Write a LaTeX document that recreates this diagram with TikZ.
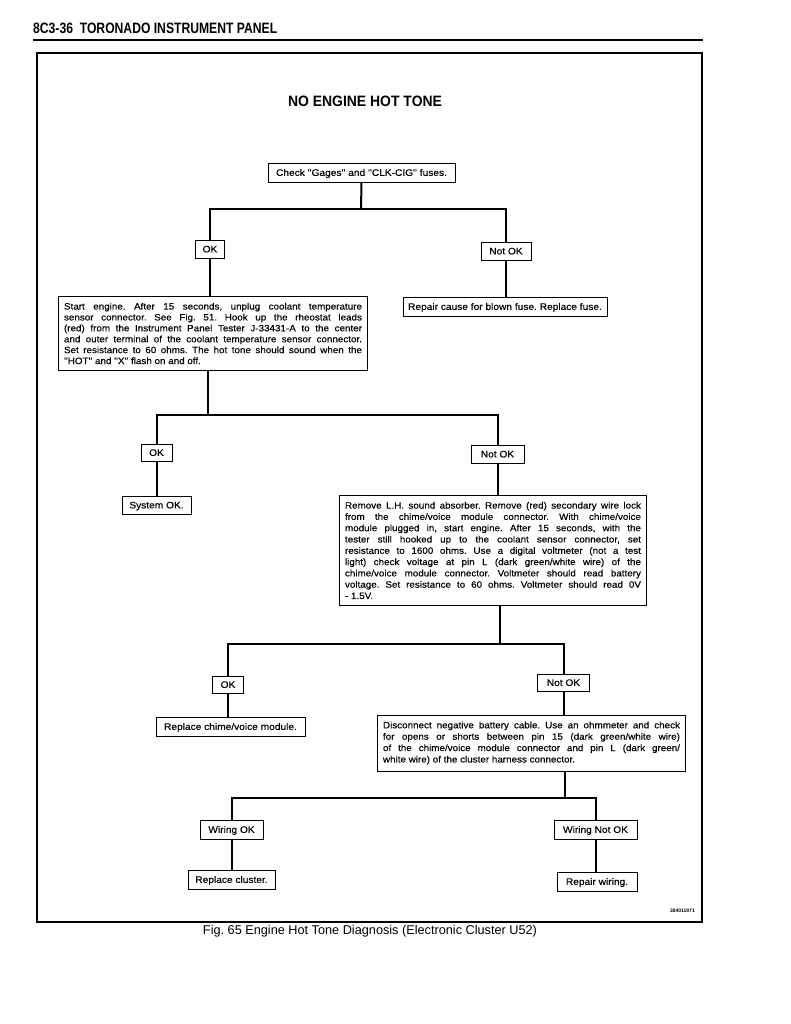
\documentclass[tikz,border=0pt]{standalone}
\usepackage{fontspec}
\setmainfont{Liberation Sans}
\newfontfamily\boxfont{Liberation Sans}[FakeStretch=1.07,FakeBold=0.3]
\frenchspacing
\begin{document}
\begin{tikzpicture}[x=1pt,y=-1pt,
  box/.style={draw, line width=0.8pt, inner sep=0pt, text height=6.8pt, text depth=0pt, font=\boxfont\fontsize{9.5}{12}\selectfont},
  tbox/.style={draw, line width=0.8pt, inner xsep=5.5pt, inner ysep=2pt, align=justify},
  conn/.style={line width=2pt},
  frame/.style={line width=1.4pt}]
\useasboundingbox (0,0) rectangle (791,1024);
\fill[white] (0,0) rectangle (791,1024);
% header
\node[anchor=south west, inner sep=0pt] (hdr) at (33,34) {\resizebox{244pt}{10.5pt}{\bfseries 8C3-36\ \ TORONADO INSTRUMENT PANEL}};
\draw[line width=1.2pt] (33,40) -- (703,40);
% frame
\draw[frame] (37,53) rectangle (702,922);
% title
\node[inner sep=0pt] (title) at (365,101) {\resizebox{154pt}{10.5pt}{\bfseries NO ENGINE HOT TONE}};
% level 1
\node[box, minimum width=187pt, minimum height=19pt] (b1) at (361.5,172.5) {Check ''Gages'' and ''CLK-CIG'' fuses.};
\coordinate (j1) at (361,209);
\node[box, minimum width=29pt, minimum height=18pt] (ok1) at (210,249) {OK};
\node[box, minimum width=50pt, minimum height=18pt] (nok1) at (506,251) {Not OK};
\node[tbox, text width=298pt, minimum height=74pt, font=\boxfont\fontsize{9.2}{10.9}\selectfont] (b2) at (213,333.5) {Start engine. After 15 seconds, unplug coolant temperature\linebreak sensor connector. See Fig. 51. Hook up the rheostat leads\linebreak (red) from the Instrument Panel Tester J-33431-A to the center\linebreak and outer terminal of the coolant temperature sensor connector.\linebreak Set resistance to 60 ohms. The hot tone should sound when the\linebreak ''HOT'' and ''X'' flash on and off.};
\node[box, minimum width=204pt, minimum height=19pt] (rep1) at (505,306.5) {Repair cause for blown fuse. Replace fuse.};
% level 2
\coordinate (j2) at (208,415);
\node[box, minimum width=31pt, minimum height=17pt] (ok2) at (156.5,452.5) {OK};
\node[box, minimum width=53pt, minimum height=18pt] (nok2) at (497.5,454) {Not OK};
\node[box, minimum width=69pt, minimum height=18pt] (sys) at (156.5,505) {System OK.};
\node[tbox, text width=296pt, minimum height=110pt, font=\boxfont\fontsize{9.2}{11.3}\selectfont] (b4) at (493,550.5) {Remove L.H. sound absorber. Remove (red) secondary wire lock\linebreak from the chime/voice module connector. With chime/voice\linebreak module plugged in, start engine. After 15 seconds, with the\linebreak tester still hooked up to the coolant sensor connector, set\linebreak resistance to 1600 ohms. Use a digital voltmeter (not a test\linebreak light) check voltage at pin L (dark green/white wire) of the\linebreak chime/voice module connector. Voltmeter should read battery\linebreak voltage. Set resistance to 60 ohms. Voltmeter should read 0V\linebreak - 1.5V.};
% level 3
\coordinate (j3) at (500,644);
\node[box, minimum width=31pt, minimum height=17pt] (ok3) at (228,684.5) {OK};
\node[box, minimum width=52pt, minimum height=17pt] (nok3) at (563.5,682.5) {Not OK};
\node[box, minimum width=149pt, minimum height=19pt] (repch) at (230.5,726.5) {Replace chime/voice module.};
\node[tbox, text width=297pt, minimum height=56pt, font=\boxfont\fontsize{9.2}{11.4}\selectfont] (b6) at (531.5,743) {Disconnect negative battery cable. Use an ohmmeter and check\linebreak for opens or shorts between pin 15 (dark green/white wire)\linebreak of the chime/voice module connector and pin L (dark green/\linebreak white wire) of the cluster harness connector.};
% level 4
\coordinate (j4) at (565,798);
\node[box, minimum width=63pt, minimum height=19pt] (wok) at (231.5,829.5) {Wiring OK};
\node[box, minimum width=83pt, minimum height=19pt] (wnok) at (595.5,829.5) {Wiring Not OK};
\node[box, minimum width=87pt, minimum height=19pt] (repcl) at (231.5,879.5) {Replace cluster.};
\node[box, minimum width=80pt, minimum height=19pt] (repw) at (597,881.5) {Repair wiring.};
% connectors
\draw[conn] (b1.south) -- (j1);
\draw[conn] (ok1.north) |- (j1) -| (nok1.north);
\draw[conn] (ok1.south) -- (ok1.south |- b2.north);
\draw[conn] (nok1.south) -- (nok1.south |- rep1.north);
\draw[conn] (b2.south -| j2) -- (j2);
\draw[conn] (ok2.north) |- (j2) -| (nok2.north);
\draw[conn] (ok2.south) -- (sys.north);
\draw[conn] (nok2.south) -- (nok2.south |- b4.north);
\draw[conn] (b4.south -| j3) -- (j3);
\draw[conn] (ok3.north) |- (j3) -| (nok3.north);
\draw[conn] (ok3.south) -- (ok3.south |- repch.north);
\draw[conn] (nok3.south) -- (nok3.south |- b6.north);
\draw[conn] (b6.south -| j4) -- (j4);
\draw[conn] (wok.north) |- (j4) -| (wnok.north);
\draw[conn] (wok.south) -- (wok.south |- repcl.north);
\draw[conn] (wnok.south) -- (wnok.south |- repw.north);
% code and caption
\node[anchor=east, inner sep=0pt, font=\fontsize{5}{6}\selectfont\bfseries] (code) at (695,911) {384011971};
\node[inner sep=0pt] (cap) at (370,931) {\resizebox{334pt}{!}{Fig. 65 Engine Hot Tone Diagnosis (Electronic Cluster U52)}};
\end{tikzpicture}
\end{document}
